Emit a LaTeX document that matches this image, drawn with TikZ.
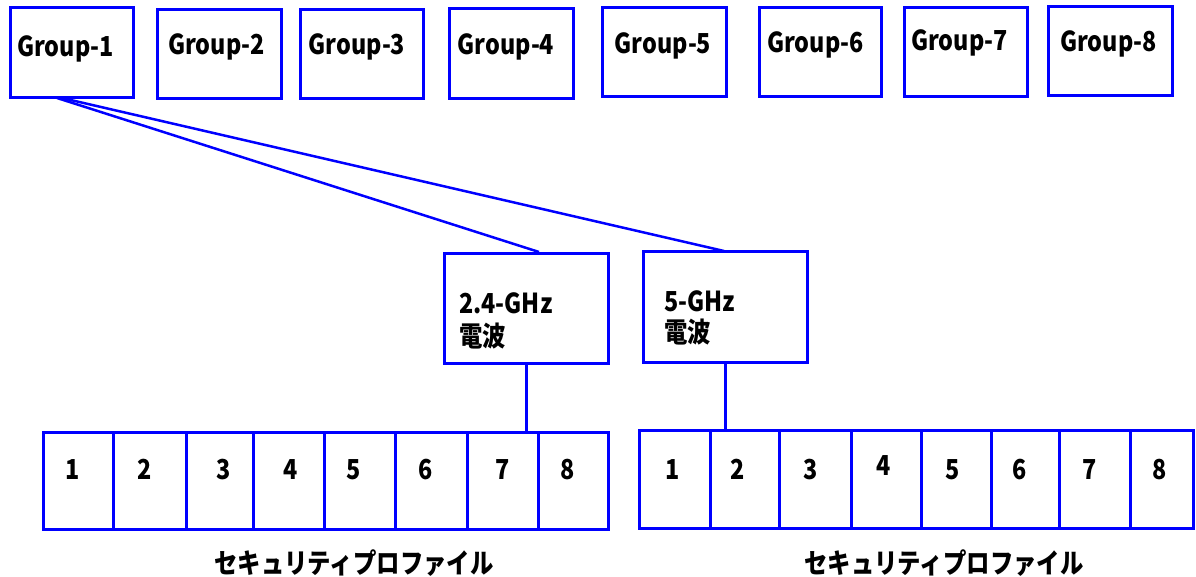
\documentclass[tikz,border=0pt]{standalone}
\usepackage{fontspec}
\setmainfont{Noto Sans CJK JP}[FakeStretch=0.85]
\usetikzlibrary{calc}
\definecolor{lineblue}{RGB}{0,0,255}
\tikzset{
  bx/.style={draw=lineblue, line width=3pt, inner sep=0pt, fill=white},
  lbl/.style={font=\fontsize{27.5}{32}\selectfont\bfseries, text=black, inner sep=0pt},
  link/.style={draw=lineblue, line width=2.5pt},
  stem/.style={draw=lineblue, line width=3pt}
}
\newcommand\mkbox[5]{\node[bx, minimum width={(#4-#2)*1pt}, minimum height={(#5-#3)*1pt}] (#1) at ({(#2+#4)/2},{(#3+#5)/2}) {};}
\begin{document}
\begin{tikzpicture}[x=1pt,y=-1pt]
\useasboundingbox (0,0) rectangle (1196,577);
% group boxes
\mkbox{g1}{10}{8}{133}{98}
\mkbox{g2}{157}{10}{281}{99}
\mkbox{g3}{300}{10}{423}{99}
\mkbox{g4}{449}{9}{573}{99}
\mkbox{g5}{602}{8}{726}{97}
\mkbox{g6}{759}{8}{881}{97}
\mkbox{g7}{904}{8}{1027}{97}
\mkbox{g8}{1048}{7}{1172}{96}
\node[lbl, anchor=base] (t1) at (65.5,57) {Group-1};
\node[lbl, anchor=base] (t2) at (216.5,55) {Group-2};
\node[lbl, anchor=base] (t3) at (357,55) {Group-3};
\node[lbl, anchor=base] (t4) at (506,55) {Group-4};
\node[lbl, anchor=base] (t5) at (663,54) {Group-5};
\node[lbl, anchor=base] (t6) at (815.5,53) {Group-6};
\node[lbl, anchor=base] (t7) at (959.5,51) {Group-7};
\node[lbl, anchor=base] (t8) at (1108.5,52) {Group-8};
% frequency boxes
\mkbox{f24}{444}{254}{608}{363}
\mkbox{f5}{643}{252}{807}{362}
\node[lbl, anchor=base west] (f24a) at (459,313) {2.4-GHz};
\node[lbl, anchor=base west] (f24b) at (459,346) {電波};
\node[lbl, anchor=base west] (f5a) at (664,311) {5-GHz};
\node[lbl, anchor=base west] (f5b) at (664,342) {電波};
% connectors from Group-1
\coordinate (s1) at (57,98);
\coordinate (s2) at (62,98);
\coordinate (e1) at (539,252);
\coordinate (e2) at (724,251);
\draw[link] (s1) -- (e1);
\draw[link] (s2) -- (e2);
% left profile row
\foreach \n/\a/\b/\tx in {1/43/113/73, 2/113/186/144.5, 3/186/253/223.5, 4/253/324/291, 5/324/395/353.5, 6/395/467/425.5, 7/467/538/503, 8/538/608/568}{
  \mkbox{l\n}{\a}{432}{\b}{529}
  \node[lbl, anchor=base] (ln\n) at (\tx,479) {\n};
}
% right profile row
\foreach \n/\a/\b/\tx/\ty in {1/639/710/673/479, 2/710/779/738/479, 3/779/851/811/479, 4/851/921/884/475, 5/921/991/953/479, 6/991/1059/1020/479, 7/1059/1130/1090/479, 8/1130/1193/1160/479}{
  \mkbox{r\n}{\a}{430}{\b}{528}
  \node[lbl, anchor=base] (rn\n) at (\tx,\ty) {\n};
}
% stems
\draw[stem] (f24.south) -- (f24.south |- l7.north);
\draw[stem] (f5.south) -- (f5.south |- r2.north);
% captions
\node[lbl, anchor=base] (cap1) at (354,573) {セキュリティプロファイル};
\node[lbl, anchor=base] (cap2) at (944,573) {セキュリティプロファイル};
\end{tikzpicture}
\end{document}
